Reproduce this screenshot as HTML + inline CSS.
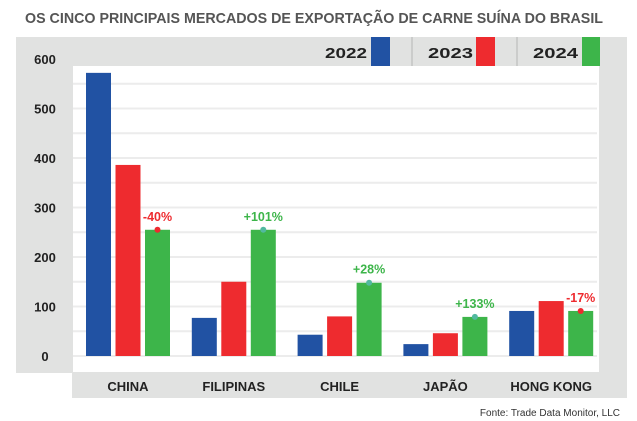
<!DOCTYPE html>
<html><head><meta charset="utf-8"><style>
html,body{margin:0;padding:0;background:#fff;}
svg{display:block;font-family:"Liberation Sans",sans-serif;}
</style></head><body>
<svg id="chart" width="637" height="421" viewBox="0 0 637 421" xmlns="http://www.w3.org/2000/svg">
<text x="25" y="23" font-size="15" font-weight="bold" fill="#555" textLength="578" lengthAdjust="spacingAndGlyphs">OS CINCO PRINCIPAIS MERCADOS DE EXPORTAÇÃO DE CARNE SUÍNA DO BRASIL</text>
<rect x="16" y="37" width="611" height="336" fill="#e1e2e1"/>
<rect x="72" y="372" width="555" height="26" fill="#e1e2e1"/>
<rect x="73" y="66" width="526" height="306" fill="#fff"/>
<g id="grid"></g>
<g id="bars"></g>
<g id="labels"></g>
<g font-size="15" font-weight="bold" fill="#222">
<text x="325" y="58" textLength="42" lengthAdjust="spacingAndGlyphs">2022</text>
<rect x="371" y="37" width="19" height="29" fill="#2152a3"/>
<line x1="412" y1="37" x2="412" y2="66" stroke="#b5b5b5" stroke-width="1"/>
<text x="428" y="58" textLength="45" lengthAdjust="spacingAndGlyphs">2023</text>
<rect x="476" y="37" width="19" height="29" fill="#ee2b2f"/>
<line x1="517" y1="37" x2="517" y2="66" stroke="#b5b5b5" stroke-width="1"/>
<text x="533" y="58" textLength="45" lengthAdjust="spacingAndGlyphs">2024</text>
<rect x="582" y="37" width="18" height="29" fill="#3db54a"/>
</g>
<text x="620" y="416" font-size="10" fill="#333" text-anchor="end">Fonte: Trade Data Monitor, LLC</text>
</svg>
<script>
const categories = ["CHINA","FILIPINAS","CHILE","JAPÃO","HONG KONG"];
const values2022 = [572, 77, 43, 24, 91];
const values2023 = [386, 150, 80, 46, 111];
const values2024 = [255, 255, 148, 79, 91];
const changeLabels = ["-40%","+101%","+28%","+133%","-17%"];
const yTicks = [0,100,200,300,400,500,600];
const gridTicks = [50,100,150,200,250,300,350,400,450,500,550];

const NS = "http://www.w3.org/2000/svg";
const y = v => 356 - 0.495 * v;
const groupX = i => 86 + i * 105.8;
const barW = 25, barStep = 29.5;
const colors = ["#2152a3","#ee2b2f","#3db54a"];
const series = [values2022, values2023, values2024];
function mk(tag, attrs, parent){const e=document.createElementNS(NS,tag);for(const k in attrs)e.setAttribute(k,attrs[k]);parent.appendChild(e);return e;}
const grid=document.getElementById('grid'), bars=document.getElementById('bars'), labels=document.getElementById('labels');
gridTicks.forEach(t=>{
  const l=mk('line',{x1:73,x2:597,y1:y(t),y2:y(t),stroke:'#ececec','stroke-width':2},grid);
  
  
});
const base=mk('line',{x1:73,x2:597,y1:y(0),y2:y(0),stroke:'#e6e6e6','stroke-width':1.5},grid);


yTicks.forEach(t=>{
  const tx=mk('text',{x:45,y:y(t)+5,'font-size':13,'font-weight':'bold',fill:'#222','text-anchor':'middle'},labels);
  tx.textContent=t;
  
  
});
categories.forEach((c,i)=>{
  series.forEach((s,j)=>{
    const x=groupX(i)+j*barStep;
    const r=mk('rect',{x:x,y:y(s[i]),width:barW,height:y(0)-y(s[i]),fill:colors[j]},bars);
    
    
  });
  const cx=groupX(i)+2*barStep+barW/2;
  const neg=changeLabels[i].startsWith('-');
  const col=neg?'#ee2b2f':'#3db54a';
  const d=mk('circle',{cx:cx,cy:y(values2024[i]),r:3,fill:neg?'#ee2b2f':'#52b9a0'},labels);
  
  
  const p=mk('text',{x:cx,y:y(values2024[i])-9,'font-size':12.5,'font-weight':'bold',fill:col,'text-anchor':'middle'},labels);
  p.textContent=changeLabels[i];
  
  
  const ct=mk('text',{x:groupX(i)+barStep+barW/2,y:391,'font-size':13,'font-weight':'bold',fill:'#222','text-anchor':'middle'},labels);
  ct.textContent=c;
  
  
});
</script>
</body></html>
